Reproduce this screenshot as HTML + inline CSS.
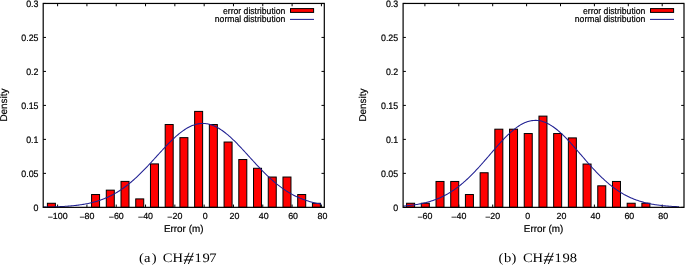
<!DOCTYPE html>
<html><head><meta charset="utf-8"><style>
html,body{margin:0;padding:0;background:#fff;}
svg{display:block;}
#w{will-change:transform;width:685px;height:265px;overflow:hidden;}
</style></head><body>
<div id="w">
<svg style="text-rendering:geometricPrecision" width="685" height="265" viewBox="0 0 685 265">
<rect width="685" height="265" fill="#fff"/>
<path d="M57.60 207.35V204.55M57.60 3.45V6.25M86.91 207.35V204.55M86.91 3.45V6.25M116.22 207.35V204.55M116.22 3.45V6.25M145.54 207.35V204.55M145.54 3.45V6.25M174.85 207.35V204.55M174.85 3.45V6.25M204.16 207.35V204.55M204.16 3.45V6.25M233.47 207.35V204.55M233.47 3.45V6.25M262.78 207.35V204.55M262.78 3.45V6.25M292.10 207.35V204.55M292.10 3.45V6.25M321.41 207.35V204.55M321.41 3.45V6.25M43.20 207.35H46.00M324.30 207.35H321.50M43.20 173.37H46.00M324.30 173.37H321.50M43.20 139.38H46.00M324.30 139.38H321.50M43.20 105.40H46.00M324.30 105.40H321.50M43.20 71.42H46.00M324.30 71.42H321.50M43.20 37.43H46.00M324.30 37.43H321.50M43.20 3.45H46.00M324.30 3.45H321.50" stroke="#000" stroke-width="1" fill="none"/>
<rect x="47.39" y="203.28" width="8.00" height="4.07" fill="#f00" stroke="#000" stroke-width="1"/>
<rect x="91.56" y="194.53" width="8.00" height="12.82" fill="#f00" stroke="#000" stroke-width="1"/>
<rect x="106.29" y="190.15" width="8.00" height="17.20" fill="#f00" stroke="#000" stroke-width="1"/>
<rect x="121.01" y="181.40" width="8.00" height="25.95" fill="#f00" stroke="#000" stroke-width="1"/>
<rect x="135.73" y="198.90" width="8.00" height="8.45" fill="#f00" stroke="#000" stroke-width="1"/>
<rect x="150.46" y="163.90" width="8.00" height="43.45" fill="#f00" stroke="#000" stroke-width="1"/>
<rect x="165.18" y="124.53" width="8.00" height="82.82" fill="#f00" stroke="#000" stroke-width="1"/>
<rect x="179.91" y="137.65" width="8.00" height="69.70" fill="#f00" stroke="#000" stroke-width="1"/>
<rect x="194.63" y="111.40" width="8.00" height="95.95" fill="#f00" stroke="#000" stroke-width="1"/>
<rect x="209.35" y="124.53" width="8.00" height="82.82" fill="#f00" stroke="#000" stroke-width="1"/>
<rect x="224.08" y="142.03" width="8.00" height="65.32" fill="#f00" stroke="#000" stroke-width="1"/>
<rect x="238.80" y="159.53" width="8.00" height="47.82" fill="#f00" stroke="#000" stroke-width="1"/>
<rect x="253.53" y="168.28" width="8.00" height="39.07" fill="#f00" stroke="#000" stroke-width="1"/>
<rect x="268.25" y="177.03" width="8.00" height="30.32" fill="#f00" stroke="#000" stroke-width="1"/>
<rect x="282.97" y="177.03" width="8.00" height="30.32" fill="#f00" stroke="#000" stroke-width="1"/>
<rect x="297.70" y="194.53" width="8.00" height="12.82" fill="#f00" stroke="#000" stroke-width="1"/>
<rect x="312.42" y="203.28" width="8.00" height="4.07" fill="#f00" stroke="#000" stroke-width="1"/>
<polyline points="43.20,207.13 44.20,207.11 45.20,207.10 46.20,207.08 47.20,207.06 48.20,207.03 49.20,207.01 50.20,206.98 51.20,206.96 52.20,206.93 53.20,206.90 54.20,206.87 55.20,206.83 56.20,206.79 57.20,206.76 58.20,206.71 59.20,206.67 60.20,206.62 61.20,206.57 62.20,206.52 63.20,206.46 64.20,206.40 65.20,206.34 66.20,206.27 67.20,206.20 68.20,206.13 69.20,206.05 70.20,205.97 71.20,205.88 72.20,205.79 73.20,205.69 74.20,205.58 75.20,205.48 76.20,205.36 77.20,205.24 78.20,205.11 79.20,204.98 80.20,204.84 81.20,204.69 82.20,204.54 83.20,204.38 84.20,204.21 85.20,204.03 86.20,203.84 87.20,203.64 88.20,203.44 89.20,203.23 90.20,203.00 91.20,202.77 92.20,202.52 93.20,202.27 94.20,202.00 95.20,201.73 96.20,201.44 97.20,201.14 98.20,200.83 99.20,200.50 100.20,200.16 101.20,199.81 102.20,199.45 103.20,199.07 104.20,198.68 105.20,198.27 106.20,197.85 107.20,197.41 108.20,196.96 109.20,196.50 110.20,196.01 111.20,195.52 112.20,195.00 113.20,194.47 114.20,193.92 115.20,193.36 116.20,192.78 117.20,192.18 118.20,191.57 119.20,190.94 120.20,190.29 121.20,189.62 122.20,188.93 123.20,188.23 124.20,187.51 125.20,186.78 126.20,186.02 127.20,185.25 128.20,184.46 129.20,183.66 130.20,182.83 131.20,181.99 132.20,181.14 133.20,180.27 134.20,179.38 135.20,178.47 136.20,177.55 137.20,176.62 138.20,175.67 139.20,174.71 140.20,173.73 141.20,172.74 142.20,171.74 143.20,170.73 144.20,169.71 145.20,168.67 146.20,167.63 147.20,166.57 148.20,165.51 149.20,164.44 150.20,163.36 151.20,162.28 152.20,161.19 153.20,160.10 154.20,159.00 155.20,157.90 156.20,156.80 157.20,155.70 158.20,154.60 159.20,153.51 160.20,152.41 161.20,151.32 162.20,150.24 163.20,149.16 164.20,148.09 165.20,147.02 166.20,145.97 167.20,144.92 168.20,143.89 169.20,142.88 170.20,141.87 171.20,140.88 172.20,139.91 173.20,138.96 174.20,138.02 175.20,137.11 176.20,136.21 177.20,135.34 178.20,134.49 179.20,133.67 180.20,132.87 181.20,132.10 182.20,131.35 183.20,130.64 184.20,129.95 185.20,129.29 186.20,128.67 187.20,128.07 188.20,127.51 189.20,126.99 190.20,126.49 191.20,126.04 192.20,125.61 193.20,125.23 194.20,124.88 195.20,124.57 196.20,124.29 197.20,124.06 198.20,123.86 199.20,123.70 200.20,123.58 201.20,123.50 202.20,123.46 203.20,123.45 204.20,123.49 205.20,123.56 206.20,123.68 207.20,123.83 208.20,124.02 209.20,124.25 210.20,124.52 211.20,124.83 212.20,125.17 213.20,125.55 214.20,125.97 215.20,126.42 216.20,126.91 217.20,127.43 218.20,127.98 219.20,128.57 220.20,129.19 221.20,129.84 222.20,130.52 223.20,131.24 224.20,131.98 225.20,132.74 226.20,133.54 227.20,134.36 228.20,135.20 229.20,136.07 230.20,136.96 231.20,137.87 232.20,138.81 233.20,139.76 234.20,140.73 235.20,141.71 236.20,142.71 237.20,143.73 238.20,144.76 239.20,145.80 240.20,146.85 241.20,147.91 242.20,148.99 243.20,150.06 244.20,151.15 245.20,152.24 246.20,153.33 247.20,154.43 248.20,155.53 249.20,156.63 250.20,157.73 251.20,158.82 252.20,159.92 253.20,161.01 254.20,162.10 255.20,163.19 256.20,164.27 257.20,165.34 258.20,166.40 259.20,167.46 260.20,168.50 261.20,169.54 262.20,170.57 263.20,171.58 264.20,172.59 265.20,173.58 266.20,174.55 267.20,175.52 268.20,176.47 269.20,177.41 270.20,178.33 271.20,179.23 272.20,180.12 273.20,181.00 274.20,181.86 275.20,182.70 276.20,183.53 277.20,184.33 278.20,185.13 279.20,185.90 280.20,186.66 281.20,187.40 282.20,188.12 283.20,188.82 284.20,189.51 285.20,190.18 286.20,190.83 287.20,191.47 288.20,192.09 289.20,192.69 290.20,193.27 291.20,193.84 292.20,194.39 293.20,194.92 294.20,195.44 295.20,195.94 296.20,196.42 297.20,196.89 298.20,197.34 299.20,197.78 300.20,198.21 301.20,198.61 302.20,199.01 303.20,199.39 304.20,199.76 305.20,200.11 306.20,200.45 307.20,200.78 308.20,201.09 309.20,201.39 310.20,201.68 311.20,201.96 312.20,202.23 313.20,202.48 314.20,202.73 315.20,202.97 316.20,203.19 317.20,203.41 318.20,203.61 319.20,203.81 320.20,204.00 321.20,204.18" fill="none" stroke="#1f1f92" stroke-width="1.05"/>
<rect x="43.20" y="3.45" width="281.10" height="203.90" fill="none" stroke="#000" stroke-width="1.2"/>
<text transform="translate(285.30,13.7) scale(1,1.06)" font-size="8.65" text-anchor="end" font-family="Liberation Sans, sans-serif" stroke="#000" stroke-width="0.2">error distribution</text>
<text transform="translate(285.30,22.2) scale(1,1.06)" font-size="8.65" text-anchor="end" font-family="Liberation Sans, sans-serif" stroke="#000" stroke-width="0.2">normal distribution</text>
<rect x="290.50" y="8.6" width="23.1" height="3.8" fill="#f00" stroke="#000" stroke-width="1"/>
<path d="M290.00 19.4H314.00" stroke="#1f1f92" stroke-width="1.05"/>
<text transform="translate(47.63,219.25)" font-size="8.85" font-family="Liberation Sans, sans-serif" stroke="#000" stroke-width="0.2"><tspan dy="0.9">&#8722;</tspan><tspan dy="-0.9">100</tspan></text>
<text transform="translate(79.41,219.25)" font-size="8.85" font-family="Liberation Sans, sans-serif" stroke="#000" stroke-width="0.2"><tspan dy="0.9">&#8722;</tspan><tspan dy="-0.9">80</tspan></text>
<text transform="translate(108.72,219.25)" font-size="8.85" font-family="Liberation Sans, sans-serif" stroke="#000" stroke-width="0.2"><tspan dy="0.9">&#8722;</tspan><tspan dy="-0.9">60</tspan></text>
<text transform="translate(138.03,219.25)" font-size="8.85" font-family="Liberation Sans, sans-serif" stroke="#000" stroke-width="0.2"><tspan dy="0.9">&#8722;</tspan><tspan dy="-0.9">40</tspan></text>
<text transform="translate(167.34,219.25)" font-size="8.85" font-family="Liberation Sans, sans-serif" stroke="#000" stroke-width="0.2"><tspan dy="0.9">&#8722;</tspan><tspan dy="-0.9">20</tspan></text>
<text transform="translate(205.16,219.25) scale(1,1.0)" font-size="8.85" text-anchor="middle" font-family="Liberation Sans, sans-serif" stroke="#000" stroke-width="0.2">0</text>
<text transform="translate(234.47,219.25) scale(1,1.0)" font-size="8.85" text-anchor="middle" font-family="Liberation Sans, sans-serif" stroke="#000" stroke-width="0.2">20</text>
<text transform="translate(263.78,219.25) scale(1,1.0)" font-size="8.85" text-anchor="middle" font-family="Liberation Sans, sans-serif" stroke="#000" stroke-width="0.2">40</text>
<text transform="translate(293.10,219.25) scale(1,1.0)" font-size="8.85" text-anchor="middle" font-family="Liberation Sans, sans-serif" stroke="#000" stroke-width="0.2">60</text>
<text transform="translate(322.41,219.25) scale(1,1.0)" font-size="8.85" text-anchor="middle" font-family="Liberation Sans, sans-serif" stroke="#000" stroke-width="0.2">80</text>
<text transform="translate(38.50,211) scale(1,1.06)" font-size="8.85" text-anchor="end" font-family="Liberation Sans, sans-serif" stroke="#000" stroke-width="0.2">0</text>
<text transform="translate(38.50,177) scale(1,1.06)" font-size="8.85" text-anchor="end" font-family="Liberation Sans, sans-serif" stroke="#000" stroke-width="0.2">0.05</text>
<text transform="translate(38.50,143) scale(1,1.06)" font-size="8.85" text-anchor="end" font-family="Liberation Sans, sans-serif" stroke="#000" stroke-width="0.2">0.1</text>
<text transform="translate(38.50,109) scale(1,1.06)" font-size="8.85" text-anchor="end" font-family="Liberation Sans, sans-serif" stroke="#000" stroke-width="0.2">0.15</text>
<text transform="translate(38.50,75) scale(1,1.06)" font-size="8.85" text-anchor="end" font-family="Liberation Sans, sans-serif" stroke="#000" stroke-width="0.2">0.2</text>
<text transform="translate(38.50,41) scale(1,1.06)" font-size="8.85" text-anchor="end" font-family="Liberation Sans, sans-serif" stroke="#000" stroke-width="0.2">0.25</text>
<text transform="translate(38.50,7) scale(1,1.06)" font-size="8.85" text-anchor="end" font-family="Liberation Sans, sans-serif" stroke="#000" stroke-width="0.2">0.3</text>
<text x="183.70" y="231.8" font-size="9.9" text-anchor="middle" font-family="Liberation Sans, sans-serif" stroke="#000" stroke-width="0.2">Error (m)</text>
<text transform="translate(6.70,105.1) rotate(-90)" font-size="9.9" text-anchor="middle" font-family="Liberation Sans, sans-serif" stroke="#000" stroke-width="0.2">Density</text>
<path d="M424.90 207.35V204.55M424.90 3.45V6.25M458.80 207.35V204.55M458.80 3.45V6.25M492.70 207.35V204.55M492.70 3.45V6.25M526.60 207.35V204.55M526.60 3.45V6.25M560.50 207.35V204.55M560.50 3.45V6.25M594.40 207.35V204.55M594.40 3.45V6.25M628.30 207.35V204.55M628.30 3.45V6.25M662.20 207.35V204.55M662.20 3.45V6.25M403.10 207.35H405.90M684.00 207.35H681.20M403.10 173.37H405.90M684.00 173.37H681.20M403.10 139.38H405.90M684.00 139.38H681.20M403.10 105.40H405.90M684.00 105.40H681.20M403.10 71.42H405.90M684.00 71.42H681.20M403.10 37.43H405.90M684.00 37.43H681.20M403.10 3.45H405.90M684.00 3.45H681.20" stroke="#000" stroke-width="1" fill="none"/>
<rect x="406.60" y="203.24" width="8.00" height="4.11" fill="#f00" stroke="#000" stroke-width="1"/>
<rect x="421.31" y="203.24" width="8.00" height="4.11" fill="#f00" stroke="#000" stroke-width="1"/>
<rect x="436.01" y="181.46" width="8.00" height="25.89" fill="#f00" stroke="#000" stroke-width="1"/>
<rect x="450.72" y="181.46" width="8.00" height="25.89" fill="#f00" stroke="#000" stroke-width="1"/>
<rect x="465.42" y="194.53" width="8.00" height="12.82" fill="#f00" stroke="#000" stroke-width="1"/>
<rect x="480.12" y="172.75" width="8.00" height="34.60" fill="#f00" stroke="#000" stroke-width="1"/>
<rect x="494.83" y="129.19" width="8.00" height="78.16" fill="#f00" stroke="#000" stroke-width="1"/>
<rect x="509.54" y="129.19" width="8.00" height="78.16" fill="#f00" stroke="#000" stroke-width="1"/>
<rect x="524.24" y="133.55" width="8.00" height="73.80" fill="#f00" stroke="#000" stroke-width="1"/>
<rect x="538.95" y="116.12" width="8.00" height="91.23" fill="#f00" stroke="#000" stroke-width="1"/>
<rect x="553.65" y="133.55" width="8.00" height="73.80" fill="#f00" stroke="#000" stroke-width="1"/>
<rect x="568.36" y="137.90" width="8.00" height="69.45" fill="#f00" stroke="#000" stroke-width="1"/>
<rect x="583.06" y="164.04" width="8.00" height="43.31" fill="#f00" stroke="#000" stroke-width="1"/>
<rect x="597.76" y="185.82" width="8.00" height="21.53" fill="#f00" stroke="#000" stroke-width="1"/>
<rect x="612.47" y="181.46" width="8.00" height="25.89" fill="#f00" stroke="#000" stroke-width="1"/>
<rect x="627.17" y="203.24" width="8.00" height="4.11" fill="#f00" stroke="#000" stroke-width="1"/>
<rect x="641.88" y="203.24" width="8.00" height="4.11" fill="#f00" stroke="#000" stroke-width="1"/>
<polyline points="403.10,206.10 404.10,206.01 405.10,205.93 406.10,205.84 407.10,205.74 408.10,205.63 409.10,205.53 410.10,205.41 411.10,205.29 412.10,205.16 413.10,205.03 414.10,204.89 415.10,204.74 416.10,204.58 417.10,204.42 418.10,204.25 419.10,204.07 420.10,203.88 421.10,203.68 422.10,203.47 423.10,203.25 424.10,203.02 425.10,202.78 426.10,202.54 427.10,202.27 428.10,202.00 429.10,201.72 430.10,201.42 431.10,201.11 432.10,200.79 433.10,200.46 434.10,200.11 435.10,199.75 436.10,199.37 437.10,198.98 438.10,198.57 439.10,198.15 440.10,197.71 441.10,197.26 442.10,196.79 443.10,196.30 444.10,195.80 445.10,195.28 446.10,194.74 447.10,194.19 448.10,193.62 449.10,193.03 450.10,192.42 451.10,191.79 452.10,191.15 453.10,190.49 454.10,189.81 455.10,189.10 456.10,188.39 457.10,187.65 458.10,186.89 459.10,186.11 460.10,185.32 461.10,184.51 462.10,183.68 463.10,182.83 464.10,181.96 465.10,181.07 466.10,180.17 467.10,179.25 468.10,178.31 469.10,177.35 470.10,176.38 471.10,175.39 472.10,174.39 473.10,173.37 474.10,172.34 475.10,171.29 476.10,170.23 477.10,169.16 478.10,168.07 479.10,166.98 480.10,165.87 481.10,164.76 482.10,163.63 483.10,162.50 484.10,161.36 485.10,160.21 486.10,159.06 487.10,157.91 488.10,156.75 489.10,155.59 490.10,154.43 491.10,153.26 492.10,152.10 493.10,150.95 494.10,149.79 495.10,148.65 496.10,147.50 497.10,146.37 498.10,145.24 499.10,144.12 500.10,143.02 501.10,141.92 502.10,140.84 503.10,139.78 504.10,138.73 505.10,137.70 506.10,136.69 507.10,135.69 508.10,134.72 509.10,133.78 510.10,132.85 511.10,131.95 512.10,131.08 513.10,130.23 514.10,129.41 515.10,128.62 516.10,127.87 517.10,127.14 518.10,126.44 519.10,125.78 520.10,125.16 521.10,124.57 522.10,124.01 523.10,123.50 524.10,123.02 525.10,122.58 526.10,122.17 527.10,121.81 528.10,121.49 529.10,121.20 530.10,120.96 531.10,120.76 532.10,120.61 533.10,120.49 534.10,120.41 535.10,120.38 536.10,120.39 537.10,120.44 538.10,120.54 539.10,120.67 540.10,120.85 541.10,121.07 542.10,121.33 543.10,121.63 544.10,121.97 545.10,122.35 546.10,122.77 547.10,123.23 548.10,123.73 549.10,124.26 550.10,124.84 551.10,125.44 552.10,126.08 553.10,126.76 554.10,127.47 555.10,128.21 556.10,128.98 557.10,129.78 558.10,130.62 559.10,131.48 560.10,132.36 561.10,133.27 562.10,134.21 563.10,135.17 564.10,136.15 565.10,137.15 566.10,138.17 567.10,139.21 568.10,140.27 569.10,141.34 570.10,142.43 571.10,143.52 572.10,144.64 573.10,145.76 574.10,146.89 575.10,148.03 576.10,149.17 577.10,150.32 578.10,151.48 579.10,152.64 580.10,153.80 581.10,154.96 582.10,156.12 583.10,157.28 584.10,158.44 585.10,159.59 586.10,160.74 587.10,161.88 588.10,163.02 589.10,164.15 590.10,165.27 591.10,166.38 592.10,167.48 593.10,168.57 594.10,169.65 595.10,170.72 596.10,171.77 597.10,172.81 598.10,173.84 599.10,174.85 600.10,175.85 601.10,176.83 602.10,177.79 603.10,178.74 604.10,179.67 605.10,180.58 606.10,181.48 607.10,182.36 608.10,183.22 609.10,184.06 610.10,184.88 611.10,185.69 612.10,186.47 613.10,187.24 614.10,187.99 615.10,188.72 616.10,189.43 617.10,190.12 618.10,190.79 619.10,191.45 620.10,192.09 621.10,192.70 622.10,193.30 623.10,193.88 624.10,194.45 625.10,194.99 626.10,195.52 627.10,196.03 628.10,196.53 629.10,197.01 630.10,197.47 631.10,197.91 632.10,198.34 633.10,198.76 634.10,199.16 635.10,199.54 636.10,199.91 637.10,200.27 638.10,200.61 639.10,200.94 640.10,201.26 641.10,201.56 642.10,201.85 643.10,202.13 644.10,202.40 645.10,202.65 646.10,202.90 647.10,203.13 648.10,203.35 649.10,203.57 650.10,203.77 651.10,203.96 652.10,204.15 653.10,204.33 654.10,204.50 655.10,204.66 656.10,204.81 657.10,204.95 658.10,205.09 659.10,205.22 660.10,205.35 661.10,205.46 662.10,205.58 663.10,205.68 664.10,205.78 665.10,205.88 666.10,205.97 667.10,206.05 668.10,206.13 669.10,206.21 670.10,206.28 671.10,206.35 672.10,206.41 673.10,206.47 674.10,206.53 675.10,206.58 676.10,206.63 677.10,206.68 678.10,206.73 679.10,206.77" fill="none" stroke="#1f1f92" stroke-width="1.05"/>
<rect x="403.10" y="3.45" width="280.90" height="203.90" fill="none" stroke="#000" stroke-width="1.2"/>
<text transform="translate(645.30,13.7) scale(1,1.06)" font-size="8.65" text-anchor="end" font-family="Liberation Sans, sans-serif" stroke="#000" stroke-width="0.2">error distribution</text>
<text transform="translate(645.30,22.2) scale(1,1.06)" font-size="8.65" text-anchor="end" font-family="Liberation Sans, sans-serif" stroke="#000" stroke-width="0.2">normal distribution</text>
<rect x="650.50" y="8.6" width="23.1" height="3.8" fill="#f00" stroke="#000" stroke-width="1"/>
<path d="M650.00 19.4H674.00" stroke="#1f1f92" stroke-width="1.05"/>
<text transform="translate(417.40,219.25)" font-size="8.85" font-family="Liberation Sans, sans-serif" stroke="#000" stroke-width="0.2"><tspan dy="0.9">&#8722;</tspan><tspan dy="-0.9">60</tspan></text>
<text transform="translate(451.30,219.25)" font-size="8.85" font-family="Liberation Sans, sans-serif" stroke="#000" stroke-width="0.2"><tspan dy="0.9">&#8722;</tspan><tspan dy="-0.9">40</tspan></text>
<text transform="translate(485.20,219.25)" font-size="8.85" font-family="Liberation Sans, sans-serif" stroke="#000" stroke-width="0.2"><tspan dy="0.9">&#8722;</tspan><tspan dy="-0.9">20</tspan></text>
<text transform="translate(527.60,219.25) scale(1,1.0)" font-size="8.85" text-anchor="middle" font-family="Liberation Sans, sans-serif" stroke="#000" stroke-width="0.2">0</text>
<text transform="translate(561.50,219.25) scale(1,1.0)" font-size="8.85" text-anchor="middle" font-family="Liberation Sans, sans-serif" stroke="#000" stroke-width="0.2">20</text>
<text transform="translate(595.40,219.25) scale(1,1.0)" font-size="8.85" text-anchor="middle" font-family="Liberation Sans, sans-serif" stroke="#000" stroke-width="0.2">40</text>
<text transform="translate(629.30,219.25) scale(1,1.0)" font-size="8.85" text-anchor="middle" font-family="Liberation Sans, sans-serif" stroke="#000" stroke-width="0.2">60</text>
<text transform="translate(663.20,219.25) scale(1,1.0)" font-size="8.85" text-anchor="middle" font-family="Liberation Sans, sans-serif" stroke="#000" stroke-width="0.2">80</text>
<text transform="translate(398.20,211) scale(1,1.06)" font-size="8.85" text-anchor="end" font-family="Liberation Sans, sans-serif" stroke="#000" stroke-width="0.2">0</text>
<text transform="translate(398.20,177) scale(1,1.06)" font-size="8.85" text-anchor="end" font-family="Liberation Sans, sans-serif" stroke="#000" stroke-width="0.2">0.05</text>
<text transform="translate(398.20,143) scale(1,1.06)" font-size="8.85" text-anchor="end" font-family="Liberation Sans, sans-serif" stroke="#000" stroke-width="0.2">0.1</text>
<text transform="translate(398.20,109) scale(1,1.06)" font-size="8.85" text-anchor="end" font-family="Liberation Sans, sans-serif" stroke="#000" stroke-width="0.2">0.15</text>
<text transform="translate(398.20,75) scale(1,1.06)" font-size="8.85" text-anchor="end" font-family="Liberation Sans, sans-serif" stroke="#000" stroke-width="0.2">0.2</text>
<text transform="translate(398.20,41) scale(1,1.06)" font-size="8.85" text-anchor="end" font-family="Liberation Sans, sans-serif" stroke="#000" stroke-width="0.2">0.25</text>
<text transform="translate(398.20,7) scale(1,1.06)" font-size="8.85" text-anchor="end" font-family="Liberation Sans, sans-serif" stroke="#000" stroke-width="0.2">0.3</text>
<text x="543.60" y="231.8" font-size="9.9" text-anchor="middle" font-family="Liberation Sans, sans-serif" stroke="#000" stroke-width="0.2">Error (m)</text>
<text transform="translate(366.40,105.1) rotate(-90)" font-size="9.9" text-anchor="middle" font-family="Liberation Sans, sans-serif" stroke="#000" stroke-width="0.2">Density</text>
<text transform="translate(139.06,261.8) scale(1.12,1)" x="0.00 4.40 11.23" font-size="13" font-family="Liberation Serif, serif">(a)</text>
<text transform="translate(162.80,261.8) scale(1.12,1)" x="0.00 8.73" font-size="13" font-family="Liberation Serif, serif">CH</text>
<text transform="translate(194.62,261.8) scale(1.12,1)" x="0.00 6.98 13.14" font-size="13" font-family="Liberation Serif, serif">197</text>
<text transform="translate(498.46,261.8) scale(1.12,1)" x="0.00 4.86 11.76" font-size="13" font-family="Liberation Serif, serif">(b)</text>
<text transform="translate(523.00,261.8) scale(1.12,1)" x="0.00 8.55" font-size="13" font-family="Liberation Serif, serif">CH</text>
<text transform="translate(554.62,261.8) scale(1.12,1)" x="0.00 6.98 13.51" font-size="13" font-family="Liberation Serif, serif">198</text>
<text transform="translate(183.44,263.6) scale(1.529,1.327)" font-size="13" font-style="italic" font-family="Liberation Serif, serif">#</text>
<text transform="translate(543.44,263.6) scale(1.529,1.327)" font-size="13" font-style="italic" font-family="Liberation Serif, serif">#</text>
</svg>
</div>
</body></html>
